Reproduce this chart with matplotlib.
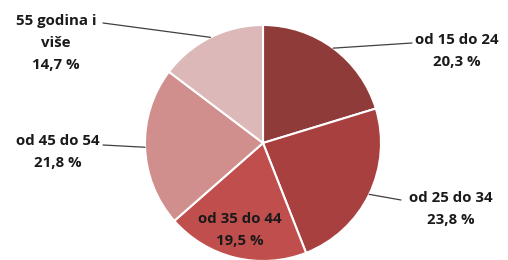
import matplotlib
import numpy as np

matplotlib.use("Agg")
import matplotlib.pyplot as plt

categories = ["od 15 do 24", "od 25 do 34", "od 35 do 44", "od 45 do 54", "55 godina i\nviše"]
shares = [20.3, 23.8, 19.5, 21.8, 14.7]
colors = ["#8f3b3a", "#a8403f", "#c04e4c", "#d08e8d", "#dcb8b8"]

W, H = 508, 260
fig = plt.figure(figsize=(W / 100, H / 100), dpi=100)
fig.patch.set_facecolor("white")

# pie centre ~ (263, 143) px from top, radius ~118 px
cx, cy, r = 263, 143, 118
ax = fig.add_axes([(cx - r) / W, (H - cy - r) / H, 2 * r / W, 2 * r / H])
wedges, _ = ax.pie(
    shares,
    colors=colors,
    startangle=90,
    counterclock=False,
    radius=1.0,
    wedgeprops=dict(edgecolor="white", linewidth=1.5),
)
ax.set_xlim(-1, 1)
ax.set_ylim(-1, 1)
ax.set_aspect("equal")
ax.axis("off")

font = dict(family=["Open Sans", "DejaVu Sans"], fontweight="bold", fontsize=10.8, color="#1a1a1a")
line_step = 22  # px between label lines

# first-line centre (x, y from top) and leader line end (x, y from top) or None
label_pos = [(457, 40), (451, 198), (240, 219), (58, 141), (56, 21)]
line_ends = [(412, 43), (401, 200), None, (103, 145), (103, 23)]

for i, w in enumerate(wedges):
    lines = categories[i].split("\n") + [f"{shares[i]:.1f} %".replace(".", ",")]
    lx, ly = label_pos[i]
    for k, s in enumerate(lines):
        fig.text(lx / W, 1 - (ly + k * line_step) / H, s, ha="center", va="center", **font)
    if line_ends[i] is None:
        continue
    mid = np.deg2rad((w.theta1 + w.theta2) / 2)
    ex, ey = line_ends[i]
    ax.annotate(
        "",
        xy=(np.cos(mid), np.sin(mid)),
        xycoords="data",
        xytext=(ex, H - ey),
        textcoords="figure pixels",
        arrowprops=dict(arrowstyle="-", color="#404040", lw=0.9, shrinkA=0, shrinkB=0),
    )

fig.savefig("out.png", dpi=100)
